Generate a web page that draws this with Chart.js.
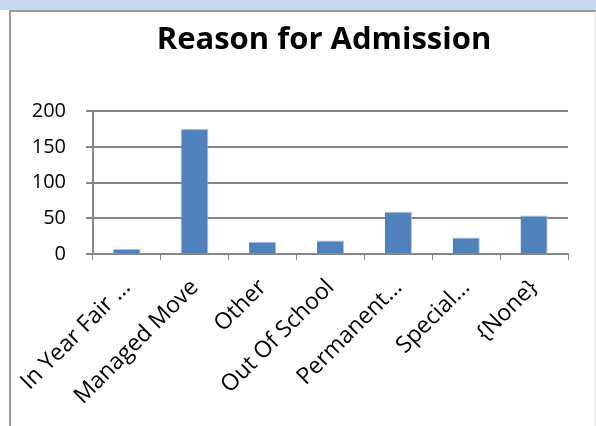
<!DOCTYPE html>
<html>
<head>
<meta charset="utf-8">
<script src="https://cdn.jsdelivr.net/npm/chart.js@4.4.1/dist/chart.umd.min.js"></script>
<style>
  html, body { margin: 0; padding: 0; background: #fff; }
  body { width: 596px; height: 426px; position: relative; overflow: hidden; }
  .strip { position: absolute; left: 0; top: 0; width: 596px; height: 10px; background: #c6d9f1; }
  .frame { position: absolute; left: 9px; top: 10px; width: 584px; height: 420px;
           border-left: 2px solid #9a9a9a; border-top: 2px solid #9a9a9a; border-right: 1px solid #dcdcdc; }
  #wrap { position: absolute; left: 0; top: 0; width: 596px; height: 426px; }
</style>
</head>
<body>
<div class="strip"></div>
<div class="frame"></div>
<div id="wrap"><canvas id="admissionChart"></canvas></div>
<script>
const categories = ['In Year Fair ...', 'Managed Move', 'Other', 'Out Of School', 'Permanent...', 'Special...', '{None}'];
const admissions = [7, 175, 17, 19, 59, 23, 54];
const yTicks = [0, 50, 100, 150, 200];

const gridColor = '#868686';
const fontFamily = "'Open Sans', sans-serif";
const titleCenterX = 324;

// the built-in title keeps the space; this draws the text centred on the frame like Excel does
const shiftedTitle = {
  id: 'shiftedTitle',
  afterDraw(chart) {
    const t = chart.titleBlock;
    const opts = chart.options.plugins.title;
    const ctx = chart.ctx;
    ctx.save();
    ctx.font = `bold ${opts.font.size}px ${fontFamily}`;
    ctx.fillStyle = '#000';
    ctx.textAlign = 'center';
    ctx.textBaseline = 'middle';
    ctx.fillText(opts.text, titleCenterX, t.top + opts.padding.top + opts.font.size * 0.6);
    ctx.restore();
  }
};

new Chart(document.getElementById('admissionChart'), {
  type: 'bar',
  data: {
    labels: categories,
    datasets: [{
      label: 'Reason for Admission',
      data: admissions,
      backgroundColor: '#4f81bd',
      borderColor: '#a7c0e0',
      borderWidth: { top: 1, right: 1, left: 0, bottom: 0 },
      barPercentage: 0.4,
      categoryPercentage: 1
    }]
  },
  options: {
    responsive: true,
    maintainAspectRatio: false,
    animation: false,
    layout: { padding: { left: 0, right: 28, top: 0, bottom: 0 } },
    plugins: {
      legend: { display: false },
      tooltip: { enabled: false },
      title: {
        display: true,
        text: 'Reason for Admission',
        color: 'rgba(0,0,0,0)',
        font: { family: fontFamily, size: 31, weight: 'bold' },
        padding: { top: 22, bottom: 52 }
      }
    },
    scales: {
      x: {
        grid: { drawOnChartArea: false, drawTicks: true, tickLength: 6, color: gridColor, offset: true },
        border: { color: gridColor, width: 2 },
        ticks: { color: '#000', font: { family: fontFamily, size: 23 }, minRotation: 45, maxRotation: 45, autoSkip: false, padding: 14 },
        afterFit: s => { s.height = 172; }
      },
      y: {
        min: 0,
        max: 200,
        afterBuildTicks: s => { s.ticks = yTicks.map(v => ({ value: v })); },
        grid: { color: gridColor, lineWidth: 2, tickLength: 7 },
        border: { color: gridColor, width: 2 },
        ticks: { color: '#000', font: { family: fontFamily, size: 20 }, padding: 20 },
        afterFit: s => { s.width = 93; }
      }
    }
  },
  plugins: [shiftedTitle]
});
</script>
</body>
</html>
